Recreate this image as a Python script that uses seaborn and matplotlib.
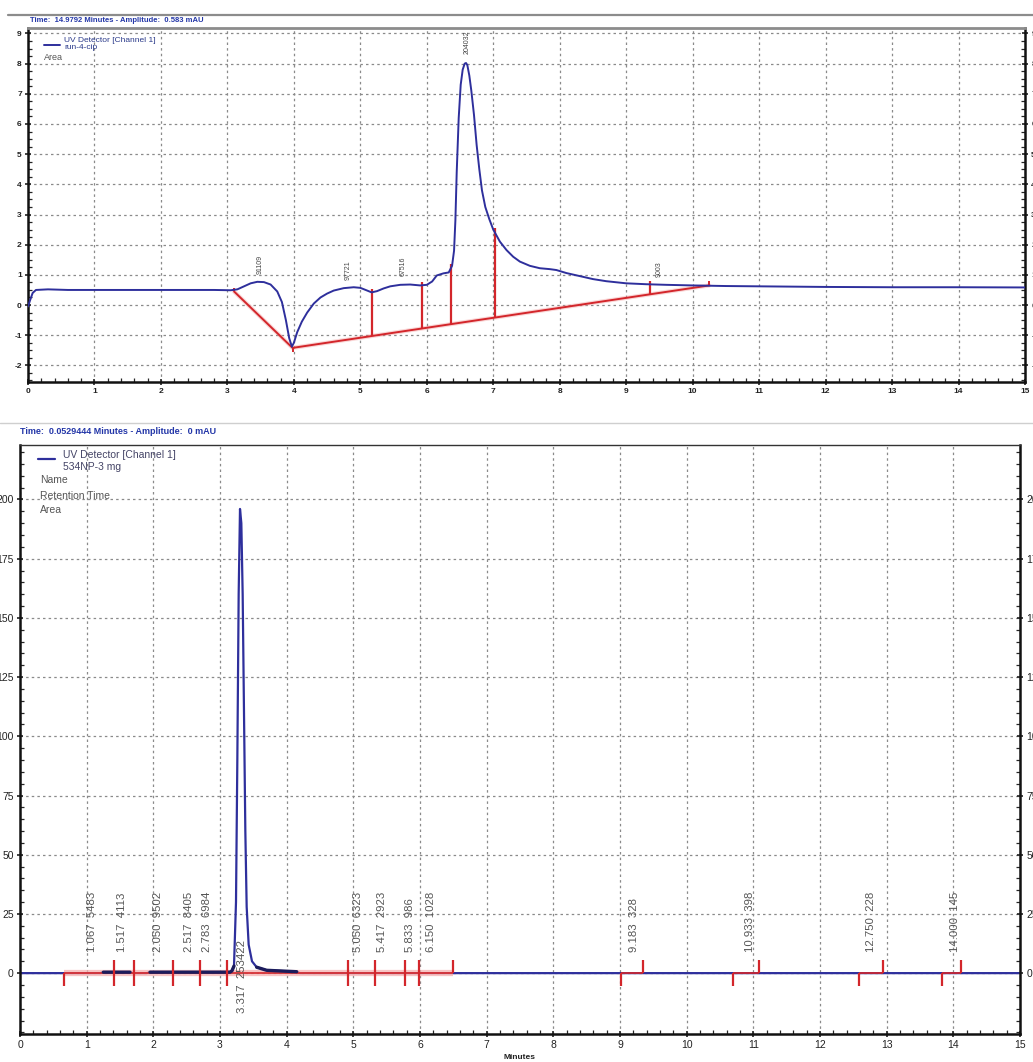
import numpy as np
import matplotlib
matplotlib.use("Agg")
import matplotlib.pyplot as plt
import seaborn as sns
from matplotlib.lines import Line2D
from matplotlib.ticker import MultipleLocator, AutoMinorLocator, FixedLocator

# Upper chromatogram (run-4-cip), minutes / mAU
top_time = [0.00, 0.03, 0.07, 0.12, 0.30, 0.60, 1.00, 2.00, 2.80, 3.05, 3.15, 3.25,
            3.35, 3.45, 3.55, 3.65, 3.75, 3.82, 3.88, 3.93, 3.97, 4.00, 4.05, 4.12,
            4.20, 4.30, 4.40, 4.50, 4.60, 4.75, 4.90, 5.00, 5.08, 5.17, 5.25, 5.35,
            5.45, 5.60, 5.75, 5.90, 6.00, 6.08, 6.15, 6.25, 6.33, 6.38, 6.41, 6.43,
            6.45, 6.48, 6.51, 6.54, 6.57, 6.59, 6.61, 6.64, 6.67, 6.71, 6.75, 6.79,
            6.83, 6.88, 6.94, 7.00, 7.10, 7.20, 7.30, 7.40, 7.55, 7.70, 7.85, 7.95,
            8.10, 8.30, 8.50, 8.70, 9.00, 9.30, 9.60, 10.00, 10.50, 11.00, 12.00,
            13.00, 14.00, 15.00]
top_signal = [-0.05, 0.15, 0.40, 0.50, 0.52, 0.50, 0.50, 0.50, 0.50, 0.49, 0.52, 0.62,
              0.72, 0.77, 0.76, 0.68, 0.45, 0.10, -0.50, -1.10, -1.38, -1.25, -0.90, -0.55,
              -0.25, 0.05, 0.25, 0.38, 0.48, 0.56, 0.59, 0.57, 0.50, 0.42, 0.46, 0.55,
              0.62, 0.67, 0.68, 0.65, 0.67, 0.78, 0.98, 1.05, 1.08, 1.30, 1.80, 2.80,
              4.40, 6.20, 7.30, 7.80, 8.00, 8.02, 7.95, 7.60, 7.10, 6.30, 5.30, 4.50,
              3.80, 3.25, 2.85, 2.50, 2.10, 1.82, 1.60, 1.44, 1.30, 1.22, 1.19, 1.16,
              1.06, 0.96, 0.86, 0.79, 0.72, 0.69, 0.67, 0.65, 0.63, 0.62, 0.60,
              0.59, 0.59, 0.583]
top_base_t = [3.10, 3.98, 10.25]
top_base_v = [0.45, -1.42, 0.65]
top_drop_t = [5.17, 5.93, 6.37, 7.02, 9.36]
top_peak_t = [3.49, 4.81, 5.64, 6.60, 9.50]
top_peak_y = [1.35, 1.15, 1.28, 8.70, 1.18]
top_peak_area = ["91109", "97721", "67516", "204032", "9003"]

# Lower chromatogram (534NP-3 mg)
bot_time = [0.00, 1.20, 1.25, 1.65, 1.70, 1.90, 1.95, 3.15, 3.18, 3.21, 3.24, 3.26,
            3.28, 3.30, 3.32, 3.34, 3.36, 3.38, 3.40, 3.43, 3.48, 3.55, 3.70, 4.15,
            4.20, 15.00]
bot_signal = [0.0, 0.0, 0.4, 0.4, 0.0, 0.0, 0.4, 0.4, 1.0, 3.0, 30.0, 90.0,
              160.0, 196.0, 190.0, 160.0, 110.0, 60.0, 28.0, 12.0, 5.0, 2.5, 1.2, 0.6,
              0.0, 0.0]
bot_rt = [1.067, 1.517, 2.050, 2.517, 2.783, 3.317, 5.050, 5.417, 5.833, 6.150,
          9.183, 10.933, 12.750, 14.000]
bot_area = [5483, 4113, 9502, 8405, 6984, 253422, 6323, 2923, 986, 1028,
            328, 398, 228, 145]
bot_seg_start = [0.66, 9.02, 10.70, 12.59, 13.83]
bot_seg_end = [6.50, 9.34, 11.09, 12.94, 14.12]
bot_split = [1.41, 1.71, 2.29, 2.70, 3.10, 4.92, 5.33, 5.78, 5.99]
bot_yticks = [0, 25, 50, 75, 100, 125, 150, 175, 200]

sns.set_theme(style="white")
plt.rcParams["font.family"] = ["Liberation Sans", "DejaVu Sans"]
plt.rcParams["axes.unicode_minus"] = False

BLUE = "#2e2f9c"
RED = "#d3262b"
HEAD = "#2336a8"
GRID = "#8a8a8a"

fig = plt.figure(figsize=(10.33, 10.62), dpi=100)
W, H = 1033, 1062
ax1 = fig.add_axes([28 / W, 1 - 382 / H, 997 / W, 354 / H])
ax2 = fig.add_axes([20 / W, 1 - 1034 / H, 1000 / W, 589 / H])


def style_axis(ax, ymin, ymax, ystep, yminor, lab_size, bold):
    ax.set_xlim(0, 15)
    ax.set_ylim(ymin, ymax)
    ax.xaxis.set_major_locator(MultipleLocator(1))
    ax.xaxis.set_minor_locator(AutoMinorLocator(5))
    ax.yaxis.set_major_locator(MultipleLocator(ystep))
    ax.yaxis.set_minor_locator(AutoMinorLocator(yminor))
    ax.grid(True, which="major", color=GRID, linestyle=(0, (2, 2.5)), linewidth=0.9)
    ax.tick_params(which="major", direction="inout", length=5, width=1.2,
                   left=True, right=True, bottom=True, labelright=True,
                   labelsize=lab_size, pad=2, colors="#222222")
    ax.tick_params(which="minor", direction="in", length=3, width=0.9,
                   left=True, right=True, bottom=True)
    for s in ["left", "right", "bottom"]:
        ax.spines[s].set_color("#111111")
        ax.spines[s].set_linewidth(1.8)
    ax.set_xlabel("")
    ax.set_ylabel("")


# ---- upper panel ----
sns.lineplot(x=top_time, y=top_signal, ax=ax1, color=BLUE, linewidth=1.4,
             sort=False, estimator=None, zorder=4)
ax1.plot(top_base_t, top_base_v, color=RED, linewidth=1.4, zorder=3)
ax1.plot(top_base_t, top_base_v, color="#f08a8a", linewidth=3.0, alpha=0.35, zorder=2)
drop_lo = np.interp(top_drop_t, top_base_t, top_base_v)
drop_hi = np.interp(top_drop_t, top_time, top_signal) + 0.12
ax1.vlines(top_drop_t, drop_lo, drop_hi, color=RED, linewidth=1.6, zorder=3)
ax1.vlines([top_base_t[0], top_base_t[-1]], [top_base_v[0], top_base_v[-1]],
           [top_base_v[0] + 0.1, top_base_v[-1] + 0.15], color=RED, linewidth=1.4, zorder=3)
ax1.vlines([top_base_t[1]], [top_base_v[1] - 0.15], [top_base_v[1]], color=RED,
           linewidth=1.4, zorder=3)
for t, y, a in zip(top_peak_t, top_peak_y, top_peak_area):
    ax1.text(t, y, a, rotation=90, ha="center", va="center", fontsize=5,
             color="#444444", zorder=5)
style_axis(ax1, -2.55, 9.18, 1, 4, 6, True)
for lab in ax1.get_xticklabels() + ax1.get_yticklabels():
    lab.set_fontweight("bold")
ax1.spines["top"].set_color("#8c8c8c")
ax1.spines["top"].set_linewidth(2.0)

ax1.add_line(Line2D([0.016, 0.032], [0.953, 0.953], transform=ax1.transAxes,
                    color=BLUE, linewidth=1.4))
ax1.text(0.036, 0.966, "UV Detector [Channel 1]", transform=ax1.transAxes,
         fontsize=6, color="#2a3a8a", va="center")
ax1.text(0.036, 0.945, "run-4-cip", transform=ax1.transAxes,
         fontsize=6, color="#2a3a8a", va="center")
ax1.text(0.016, 0.918, "Area", transform=ax1.transAxes,
         fontsize=6.5, color="#555555", va="center")

# ---- lower panel ----
sns.lineplot(x=bot_time, y=bot_signal, ax=ax2, color=BLUE, linewidth=1.6,
             sort=False, estimator=None, zorder=2)
ax2.hlines(0, bot_seg_start[0], bot_seg_end[0], color="#f5b0b0", linewidth=4.5,
           alpha=0.75, zorder=3)
ax2.hlines(np.zeros(len(bot_seg_start)), bot_seg_start, bot_seg_end, color=RED,
           linewidth=1.2, zorder=4)
bt = np.array(bot_time)
bs = np.array(bot_signal)
dark = np.where((bs > 0.3) & (bs < 5), bs, np.nan)
ax2.plot(bt, dark, color="#1c1c5c", linewidth=2.4, zorder=5)
ax2.vlines(bot_split, -5.5, 5.5, color=RED, linewidth=1.6, zorder=6)
ax2.vlines(bot_seg_start, -5.5, 0, color=RED, linewidth=1.6, zorder=6)
ax2.vlines(bot_seg_end, 0, 5.5, color=RED, linewidth=1.6, zorder=6)
for rt, area in zip(bot_rt, bot_area):
    base = -17 if area == max(bot_area) else 9
    ax2.text(rt + 0.02, base, f"{rt:.3f}  {area}", rotation=90, ha="center",
             va="bottom", fontsize=8.2, color="#555555", zorder=7)
style_axis(ax2, -25.7, 223, 25, 5, 7.5, False)
ax2.yaxis.set_major_locator(FixedLocator(bot_yticks))
ax2.spines["top"].set_color("#333333")
ax2.spines["top"].set_linewidth(1.0)
ax2.set_xlabel("Minutes", fontsize=6, fontweight="bold", labelpad=3, color="#222222")

ax2.add_line(Line2D([0.018, 0.035], [0.976, 0.976], transform=ax2.transAxes,
                    color=BLUE, linewidth=1.6))
ax2.text(0.043, 0.983, "UV Detector [Channel 1]", transform=ax2.transAxes,
         fontsize=7.5, color="#444466", va="center")
ax2.text(0.043, 0.962, "534NP-3 mg", transform=ax2.transAxes,
         fontsize=7.5, color="#444466", va="center")
ax2.text(0.02, 0.940, "Name", transform=ax2.transAxes,
         fontsize=7.5, color="#555555", va="center")
ax2.text(0.02, 0.913, "Retention Time", transform=ax2.transAxes,
         fontsize=7.5, color="#555555", va="center")
ax2.text(0.02, 0.889, "Area", transform=ax2.transAxes,
         fontsize=7.5, color="#555555", va="center")

# ---- headers ----
fig.add_artist(Line2D([8 / W, 1.0], [1 - 15 / H] * 2, color="#8c8c8c", linewidth=1.6))
fig.text(30 / W, 1 - 20 / H, "Time:  14.9792 Minutes - Amplitude:  0.583 mAU",
         fontsize=5.5, fontweight="bold", color=HEAD, va="center")
fig.add_artist(Line2D([0.0, 1.0], [1 - 423 / H] * 2, color="#cfcfcf", linewidth=1.0))
fig.text(20 / W, 1 - 432 / H, "Time:  0.0529444 Minutes - Amplitude:  0 mAU",
         fontsize=6.5, fontweight="bold", color=HEAD, va="center")

fig.savefig("out.png", dpi=100)
